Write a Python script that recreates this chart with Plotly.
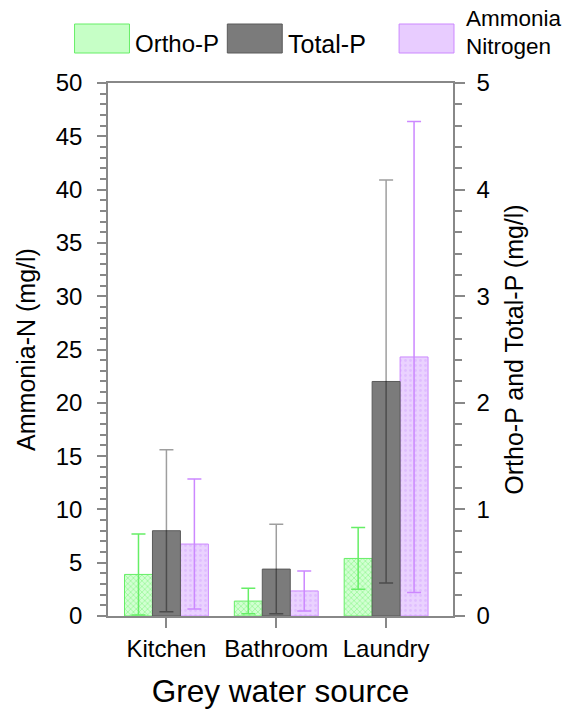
import plotly.graph_objects as go

categories = ["Kitchen", "Bathroom", "Laundry"]
ortho_p = [0.39, 0.14, 0.54]
ortho_p_err = [0.38, 0.12, 0.29]
total_p = [0.80, 0.44, 2.20]
total_p_err = [0.76, 0.42, 1.89]
ammonia_n = [6.75, 2.35, 24.3]
ammonia_n_err = [6.1, 1.87, 22.1]

left_ticks = [0, 5, 10, 15, 20, 25, 30, 35, 40, 45, 50]
right_ticks = [0, 1, 2, 3, 4, 5]

FONT = "Liberation Sans, Arial, sans-serif"
W, H = 569, 711
ML, MR, MT, MB = 107.5, 116, 83, 95
PW, PH = W - ML - MR, H - MT - MB

def px2paper(x, y):
    return (x - ML) / PW, (H - MB - y) / PH

bw = 0.2545
fig = go.Figure()
fig.add_trace(go.Bar(
    x=categories, y=ortho_p, yaxis="y2", name="Ortho-P",
    width=bw, offset=-1.5 * bw,
    marker=dict(color="#c6ffc6", line=dict(color="#66ee66", width=1),
                pattern=dict(shape="x", bgcolor="#d2ffd2", fgcolor="#6ef26e", size=4, solidity=0.4)),
    error_y=dict(type="data", array=ortho_p_err, color="#66ee66", thickness=1.5, width=7),
    showlegend=False,
))
fig.add_trace(go.Bar(
    x=categories, y=total_p, yaxis="y2", name="Total-P",
    width=bw, offset=-0.5 * bw,
    marker=dict(color="#7b7b7b", line=dict(color="#5a5a5a", width=1)),
    error_y=dict(type="data", array=total_p_err, color="rgba(0,0,0,0.38)", thickness=1.5, width=7),
    showlegend=False,
))
fig.add_trace(go.Bar(
    x=categories, y=ammonia_n, yaxis="y", name="Ammonia Nitrogen",
    width=bw, offset=0.5 * bw,
    marker=dict(color="#e8ccff", line=dict(color="#cc88ff", width=1),
                pattern=dict(shape=".", bgcolor="#ead2ff", fgcolor="#d6aaff", size=5, solidity=0.25)),
    error_y=dict(type="data", array=ammonia_n_err, color="#cc88ff", thickness=1.5, width=7),
    showlegend=False,
))

axcol = "#888888"
fig.update_layout(
    width=W, height=H,
    margin=dict(l=ML, r=MR, t=MT, b=MB, autoexpand=False),
    paper_bgcolor="white", plot_bgcolor="white",
    font=dict(family=FONT, color="black", size=24),
    barmode="overlay",
    hovermode=False,
    xaxis=dict(
        type="category", range=[-0.532, 2.609],
        showline=True, linecolor=axcol, linewidth=1.5, mirror=True,
        ticks="outside", ticklen=10, tickcolor=axcol, tickwidth=1.5,
        tickfont=dict(size=24), showgrid=False, zeroline=False,
        title=dict(text="Grey water source", font=dict(size=31.5), standoff=19),
        automargin=False,
    ),
    yaxis=dict(
        range=[0, 50], tickvals=left_ticks,
        showline=True, linecolor=axcol, linewidth=1.5,
        ticks="outside", ticklen=9, tickcolor=axcol, tickwidth=1.5,
        minor=dict(dtick=1, ticks="outside", ticklen=6, tickcolor=axcol, tickwidth=1.5),
        tickfont=dict(size=24), showgrid=False, zeroline=False,
        ticklabelstandoff=10,
        title=dict(text="Ammonia-N (mg/l)", font=dict(size=25), standoff=13),
        automargin=False,
    ),
    yaxis2=dict(
        range=[0, 5], tickvals=right_ticks, overlaying="y", side="right",
        showline=True, linecolor=axcol, linewidth=1.5,
        ticks="outside", ticklen=10, tickcolor=axcol, tickwidth=1.5,
        minor=dict(dtick=0.2, ticks="outside", ticklen=7, tickcolor=axcol, tickwidth=1.5),
        tickfont=dict(size=24), showgrid=False, zeroline=False,
        ticklabelstandoff=7,
        title=dict(text="Ortho-P and Total-P (mg/l)", font=dict(size=25), standoff=17),
        automargin=False,
    ),
)

# manual legend (window pixel positions)
legend_swatches = [
    ("#c6ffc6", "#66ee66", 74, 129),
    ("#7b7b7b", "#5a5a5a", 227, 282),
    ("#e8ccff", "#cc88ff", 399, 454),
]
legend_texts = [
    ("Ortho-P", 133, 44, 24),
    ("Total-P", 286, 44, 25),
    ("Ammonia", 464, 19, 22.5),
    ("Nitrogen", 464, 46, 22.5),
]
for fill, line, x0, x1 in legend_swatches:
    px0, py0 = px2paper(x0, 53)
    px1, py1 = px2paper(x1, 24)
    fig.add_shape(type="rect", xref="paper", yref="paper", x0=px0, x1=px1, y0=py0, y1=py1,
                  fillcolor=fill, line=dict(color=line, width=1))
for text, tx, ty, fs in legend_texts:
    ax, ay = px2paper(tx, ty)
    fig.add_annotation(xref="paper", yref="paper", x=ax, y=ay, text=text, showarrow=False,
                       xanchor="left", yanchor="middle", align="left",
                       font=dict(size=fs, family=FONT, color="black"))

fig.write_html("out.html", config={"displayModeBar": False},
               post_script="document.body.style.margin='0';document.body.style.overflow='hidden';")
